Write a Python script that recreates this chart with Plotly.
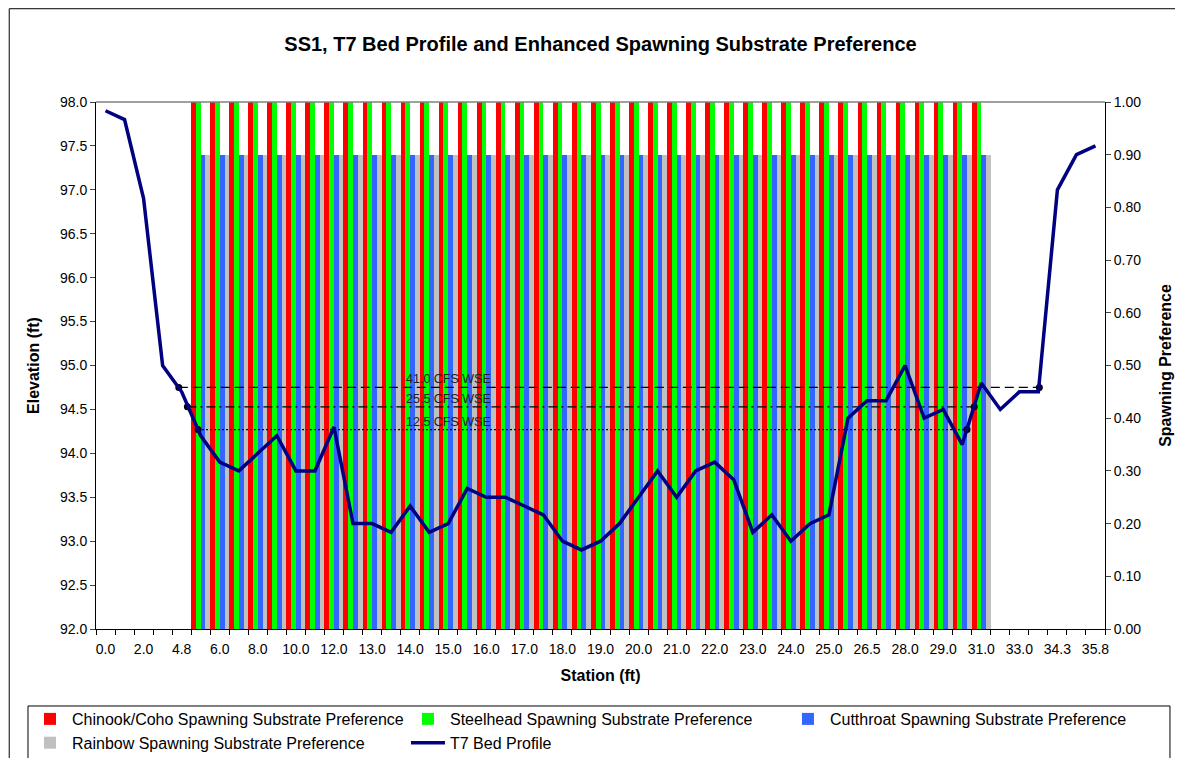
import plotly.graph_objects as go

# --- datos ---
stations = ['0.0', '1.0', '2.0', '3.0', '4.8', '5.5', '6.0', '7.0', '8.0', '9.0',
            '10.0', '11.0', '12.0', '12.5', '13.0', '13.5', '14.0', '14.5', '15.0', '15.5',
            '16.0', '16.5', '17.0', '17.5', '18.0', '18.5', '19.0', '19.5', '20.0', '20.5',
            '21.0', '21.5', '22.0', '22.5', '23.0', '23.5', '24.0', '24.5', '25.0', '25.5',
            '26.5', '27.5', '28.0', '28.5', '29.0', '30.0', '31.0', '32.0', '33.0', '33.5',
            '34.3', '35.0', '35.8']

bed_profile = [97.9, 97.8, 96.9, 95.0, 94.7, 94.2, 93.9, 93.8, 94.0, 94.2,
               93.8, 93.8, 94.3, 93.2, 93.2, 93.1, 93.4, 93.1, 93.2, 93.6,
               93.5, 93.5, 93.4, 93.3, 93.0, 92.9, 93.0, 93.2, 93.5, 93.8,
               93.5, 93.8, 93.9, 93.7, 93.1, 93.3, 93.0, 93.2, 93.3, 94.4,
               94.6, 94.6, 95.0, 94.4, 94.5, 94.1, 94.8, 94.5, 94.7, 94.7,
               97.0, 97.4, 97.5]

chinook = [0, 0, 0, 0, 0, 1, 1, 1, 1, 1, 1, 1, 1, 1, 1, 1, 1, 1, 1, 1, 1, 1, 1, 1, 1, 1,
           1, 1, 1, 1, 1, 1, 1, 1, 1, 1, 1, 1, 1, 1, 1, 1, 1, 1, 1, 1, 1, 0, 0, 0, 0, 0, 0]
steelhead = [0, 0, 0, 0, 0, 1, 1, 1, 1, 1, 1, 1, 1, 1, 1, 1, 1, 1, 1, 1, 1, 1, 1, 1, 1, 1,
             1, 1, 1, 1, 1, 1, 1, 1, 1, 1, 1, 1, 1, 1, 1, 1, 1, 1, 1, 1, 1, 0, 0, 0, 0, 0, 0]
cutthroat = [0, 0, 0, 0, 0, 0.9, 0.9, 0.9, 0.9, 0.9, 0.9, 0.9, 0.9, 0.9, 0.9, 0.9, 0.9, 0.9,
             0.9, 0.9, 0.9, 0.9, 0.9, 0.9, 0.9, 0.9, 0.9, 0.9, 0.9, 0.9, 0.9, 0.9, 0.9, 0.9,
             0.9, 0.9, 0.9, 0.9, 0.9, 0.9, 0.9, 0.9, 0.9, 0.9, 0.9, 0.9, 0.9, 0, 0, 0, 0, 0, 0]
rainbow = [0, 0, 0, 0, 0, 0.9, 0.9, 0.9, 0.9, 0.9, 0.9, 0.9, 0.9, 0.9, 0.9, 0.9, 0.9, 0.9,
           0.9, 0.9, 0.9, 0.9, 0.9, 0.9, 0.9, 0.9, 0.9, 0.9, 0.9, 0.9, 0.9, 0.9, 0.9, 0.9,
           0.9, 0.9, 0.9, 0.9, 0.9, 0.9, 0.9, 0.9, 0.9, 0.9, 0.9, 0.9, 0.9, 0, 0, 0, 0, 0, 0]

# niveles de agua (WSE) y bordes mojados (posicion en la serie de estaciones)
wse_names = ['41.0 CFS WSE', '25.5 CFS WSE', '12.5 CFS WSE']
wse_levels = [94.75, 94.53, 94.27]
wse_left = [3.85, 4.3, 4.86]
wse_right = [49.05, 45.63, 45.25]
wse_dash = ['9px,5px', '9px,4px,2px,4px', '2px,2px']

x_pos = list(range(len(stations)))

fig = go.Figure()

# cada serie va a una columna de la leyenda (3 columnas como en Excel)
series = [('Chinook/Coho Spawning Substrate Preference', chinook, '#FF0000', 'legend'),
          ('Steelhead Spawning Substrate Preference', steelhead, '#00FF00', 'legend2'),
          ('Cutthroat Spawning Substrate Preference', cutthroat, '#3366FF', 'legend3'),
          ('Rainbow Spawning Substrate Preference', rainbow, '#C0C0C0', 'legend')]
for nombre, vals, col, leg in series:
    fig.add_trace(go.Bar(x=x_pos, y=vals, name=nombre, marker=dict(color=col, line=dict(width=0)),
                         yaxis='y', legend=leg))

for nombre, nivel, x0, x1, dash in zip(wse_names, wse_levels, wse_left, wse_right, wse_dash):
    fig.add_trace(go.Scatter(x=[x0, x1], y=[nivel, nivel], mode='lines+markers', yaxis='y2',
                             line=dict(color='black', width=1.3, dash=dash),
                             marker=dict(color='black', size=7), showlegend=False))

fig.add_trace(go.Scatter(x=x_pos, y=bed_profile, name='T7 Bed Profile', mode='lines', yaxis='y2',
                         line=dict(color='#000080', width=3.5), legend='legend2'))

for nombre, nivel in zip(wse_names, wse_levels):
    fig.add_annotation(x=18, y=nivel, yref='y2', text=nombre, showarrow=False,
                       yanchor='bottom', yshift=-1, font=dict(size=12.5, color='#222222'))

leyenda = dict(orientation='v', y=-0.1385, xanchor='left', yanchor='top', borderwidth=0,
               bgcolor='rgba(0,0,0,0)', font=dict(size=16), traceorder='normal', itemwidth=34)

# la pagina deja 8 px de margen: la figura es 8 px mas chica
fig.update_layout(
    width=1175, height=750,
    paper_bgcolor='white', plot_bgcolor='white',
    font=dict(family='Arial', size=14, color='black'),
    margin=dict(l=88, r=78, t=94, b=129, autoexpand=False),
    title=dict(text='<b>SS1, T7 Bed Profile and Enhanced Spawning Substrate Preference</b>',
               x=0.5, xref='paper', xanchor='center', y=1 - 36 / 750, yanchor='middle',
               font=dict(size=20)),
    barmode='group', bargap=0, bargroupgap=0,
    showlegend=True,
    legend=dict(leyenda, x=-0.0674),
    legend2=dict(leyenda, x=0.3072),
    legend3=dict(leyenda, x=0.6838),
    xaxis=dict(range=[-0.5, len(stations) - 0.5], tickmode='array',
               tickvals=x_pos[::2], ticktext=stations[::2], ticks='', showgrid=False,
               showline=True, linecolor='black', zeroline=False, ticklabelstandoff=7,
               minor=dict(tickmode='array', tickvals=[i - 0.5 for i in range(len(stations) + 1)],
                          ticks='outside', ticklen=5, tickcolor='black', showgrid=False),
               title=dict(text='<b>Station (ft)</b>', font=dict(size=16), standoff=14)),
    yaxis=dict(side='right', range=[0, 1], dtick=0.1, tickformat='.2f', ticks='outside',
               ticklen=5, showgrid=False, showline=True, linecolor='black', zeroline=False,
               title=dict(text='<b>Spawning Preference</b>', font=dict(size=16), standoff=19)),
    yaxis2=dict(overlaying='y', side='left', range=[92, 98], dtick=0.5, tickformat='.1f',
                ticks='outside', ticklen=5, showgrid=False, showline=True, linecolor='black',
                zeroline=False,
                title=dict(text='<b>Elevation (ft)</b>', font=dict(size=16), standoff=16)),
)

# borde superior del area de trazado, marco de la leyenda y marco del grafico
fig.add_shape(type='line', xref='paper', yref='paper', x0=0, x1=1, y0=1, y1=1,
              line=dict(color='#808080', width=1.5))
fig.add_shape(type='rect', xref='paper', yref='paper', x0=-0.0674, x1=1.0644, y0=-0.3, y1=-0.1461,
              line=dict(color='black', width=1))
fig.add_shape(type='rect', xref='paper', yref='paper', x0=-0.086, x1=1.074, y0=-0.3, y1=1.177,
              line=dict(color='black', width=1))

fig.write_html('out.html')
